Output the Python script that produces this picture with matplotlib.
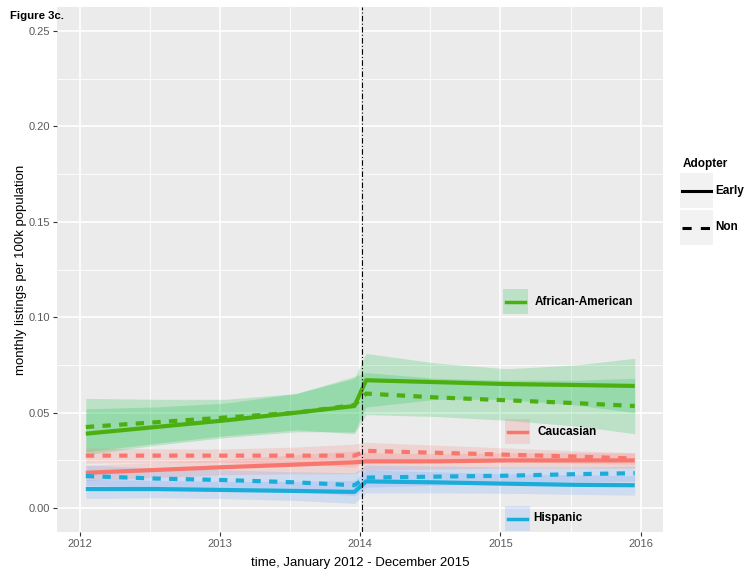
import matplotlib
matplotlib.use("Agg")
import matplotlib.pyplot as plt
from matplotlib.patches import Rectangle
from matplotlib.lines import Line2D

plt.rcParams['font.family'] = ['Liberation Sans', 'DejaVu Sans']

# monthly points (month index, Jan 2012 - Dec 2015)
months = ["2012-01", "2012-07", "2013-01", "2013-07", "2013-12",
          "2014-01", "2014-07", "2015-01", "2015-07", "2015-12"]

# African-American
aa_early = [0.039, 0.0425, 0.046, 0.050, 0.0535, 0.067, 0.066, 0.065, 0.0645, 0.064]
aa_early_lo = [0.028, 0.033, 0.037, 0.040, 0.040, 0.053, 0.057, 0.057, 0.054, 0.050]
aa_early_hi = [0.052, 0.053, 0.055, 0.060, 0.068, 0.081, 0.076, 0.073, 0.075, 0.0785]
aa_non = [0.0425, 0.045, 0.0475, 0.050, 0.054, 0.060, 0.058, 0.0565, 0.055, 0.0535]
aa_non_lo = [0.0295, 0.034, 0.038, 0.041, 0.039, 0.049, 0.048, 0.046, 0.043, 0.039]
aa_non_hi = [0.0575, 0.057, 0.057, 0.060, 0.069, 0.071, 0.068, 0.067, 0.067, 0.068]

# Caucasian
ca_early = [0.0185, 0.020, 0.0215, 0.0228, 0.024, 0.0245, 0.0245, 0.025, 0.025, 0.025]
ca_early_lo = [0.0145, 0.016, 0.0175, 0.018, 0.018, 0.020, 0.0205, 0.021, 0.021, 0.021]
ca_early_hi = [0.0225, 0.024, 0.0255, 0.028, 0.030, 0.029, 0.0285, 0.029, 0.029, 0.029]
ca_non = [0.0275, 0.0275, 0.0275, 0.0275, 0.0275, 0.030, 0.029, 0.028, 0.027, 0.026]
ca_non_lo = [0.0235, 0.024, 0.024, 0.023, 0.0215, 0.025, 0.025, 0.0245, 0.0235, 0.023]
ca_non_hi = [0.0315, 0.031, 0.031, 0.032, 0.0335, 0.0345, 0.033, 0.0315, 0.030, 0.029]

# Hispanic
hi_early = [0.010, 0.010, 0.0095, 0.009, 0.0085, 0.014, 0.0135, 0.0128, 0.0122, 0.012]
hi_early_lo = [0.005, 0.0055, 0.005, 0.004, 0.0025, 0.008, 0.008, 0.0078, 0.0072, 0.0068]
hi_early_hi = [0.015, 0.0145, 0.014, 0.014, 0.0145, 0.020, 0.019, 0.018, 0.0175, 0.017]
hi_non = [0.0168, 0.0155, 0.0147, 0.0135, 0.012, 0.016, 0.0165, 0.017, 0.0178, 0.0183]
hi_non_lo = [0.012, 0.011, 0.0105, 0.009, 0.0065, 0.011, 0.012, 0.013, 0.0138, 0.014]
hi_non_hi = [0.0225, 0.021, 0.020, 0.019, 0.0185, 0.0225, 0.022, 0.0215, 0.0215, 0.022]

x_ticks = [2012, 2013, 2014, 2015, 2016]
y_ticks = [0.00, 0.05, 0.10, 0.15, 0.20, 0.25]
groups = ["African-American", "Caucasian", "Hispanic"]

line_col = {"African-American": "#4CAF10", "Caucasian": "#F8766D", "Hispanic": "#1AADD9"}
fill_col = {"African-American": "#00BA38", "Caucasian": "#F8766D", "Hispanic": "#619CFF"}

x = [int(m[:4]) + (int(m[5:]) - 0.5) / 12 for m in months]

W, H = 752, 579
fig = plt.figure(figsize=(W / 100, H / 100), dpi=100)
fig.patch.set_facecolor("white")


def fpx(px, py):
    return px / W, 1 - py / H


ax = fig.add_axes([57 / W, 1 - 532 / H, 606 / W, 525 / H])
ax.set_facecolor("#EBEBEB")
for s in ax.spines.values():
    s.set_visible(False)

ax.set_xlim(2011.836, 2016.16)
ax.set_ylim(-0.0125, 0.2625)
ax.set_xticks(x_ticks)
ax.set_yticks(y_ticks)
ax.set_xticklabels([str(t) for t in x_ticks])
ax.set_yticklabels(["%.2f" % t for t in y_ticks])
ax.set_xticks([2012.5, 2013.5, 2014.5, 2015.5], minor=True)
ax.set_yticks([0.025, 0.075, 0.125, 0.175, 0.225], minor=True)
ax.grid(which="major", color="white", lw=1.2)
ax.grid(which="minor", color="white", lw=0.6)
ax.set_axisbelow(True)
ax.tick_params(which="major", length=3, width=0.8, color="#333333",
               labelcolor="#5A5A5A", labelsize=8, pad=2)
ax.tick_params(which="minor", length=0)

series = {
    "African-American": (aa_early, aa_early_lo, aa_early_hi, aa_non, aa_non_lo, aa_non_hi),
    "Caucasian": (ca_early, ca_early_lo, ca_early_hi, ca_non, ca_non_lo, ca_non_hi),
    "Hispanic": (hi_early, hi_early_lo, hi_early_hi, hi_non, hi_non_lo, hi_non_hi),
}

for g in groups:
    e, elo, ehi, n, nlo, nhi = series[g]
    ax.fill_between(x, elo, ehi, color=fill_col[g], alpha=0.2, lw=0)
    ax.fill_between(x, nlo, nhi, color=fill_col[g], alpha=0.2, lw=0)
for g in groups:
    e, elo, ehi, n, nlo, nhi = series[g]
    ax.plot(x, e, color=line_col[g], lw=3, solid_capstyle="butt")
    ax.plot(x, n, color=line_col[g], lw=3, dashes=(2, 2), dash_capstyle="butt")

ax.axvline(2014.01, color="black", lw=0.8, linestyle=(0, (5, 2, 1, 2)))

ax.set_xlabel("time, January 2012 - December 2015", fontsize=9.5, labelpad=6)
ax.set_ylabel("monthly listings per 100k population", fontsize=9.5, labelpad=1)

# colour key placed inside the panel
keys = [("African-American", 503, 289, 535, 302),
        ("Caucasian", 505, 419, 538, 432),
        ("Hispanic", 505, 506, 533, 518)]
for g, bx, by, tx, ty in keys:
    x0, y0 = fpx(bx, by + 25)
    fig.patches.append(Rectangle((x0, y0), 25 / W, 25 / H, transform=fig.transFigure,
                                 facecolor=fill_col[g], alpha=0.2, lw=0))
    lx0, ly = fpx(bx + 3, by + 12.5)
    lx1, _ = fpx(bx + 22, by + 12.5)
    fig.lines.append(Line2D([lx0, lx1], [ly, ly], transform=fig.transFigure,
                            color=line_col[g], lw=2.5))
    fig.text(*fpx(tx, ty), g, fontsize=8.5, fontweight="bold", va="center", ha="left")

# linetype legend on the right
fig.text(*fpx(683, 164), "Adopter", fontsize=8.5, fontweight="bold", va="center", ha="left")
for lab, ky, style in [("Early", 173, "-"), ("Non", 210, (0, (3, 3)))]:
    x0, y0 = fpx(680, ky + 35)
    fig.patches.append(Rectangle((x0, y0), 33 / W, 35 / H, transform=fig.transFigure,
                                 facecolor="#F2F2F2", lw=0))
    lx0, ly = fpx(682, ky + 17.5)
    lx1, _ = fpx(711, ky + 17.5)
    fig.lines.append(Line2D([lx0, lx1], [ly, ly], transform=fig.transFigure,
                            color="black", lw=2.2, linestyle=style, dash_capstyle="butt"))
    fig.text(*fpx(715, ky + 17.5), lab, fontsize=8.5, fontweight="bold", va="center", ha="left")

fig.text(*fpx(10, 16), "Figure 3c.", fontsize=8.2, fontweight="bold", va="center", ha="left")

fig.savefig("out.png", dpi=100)
